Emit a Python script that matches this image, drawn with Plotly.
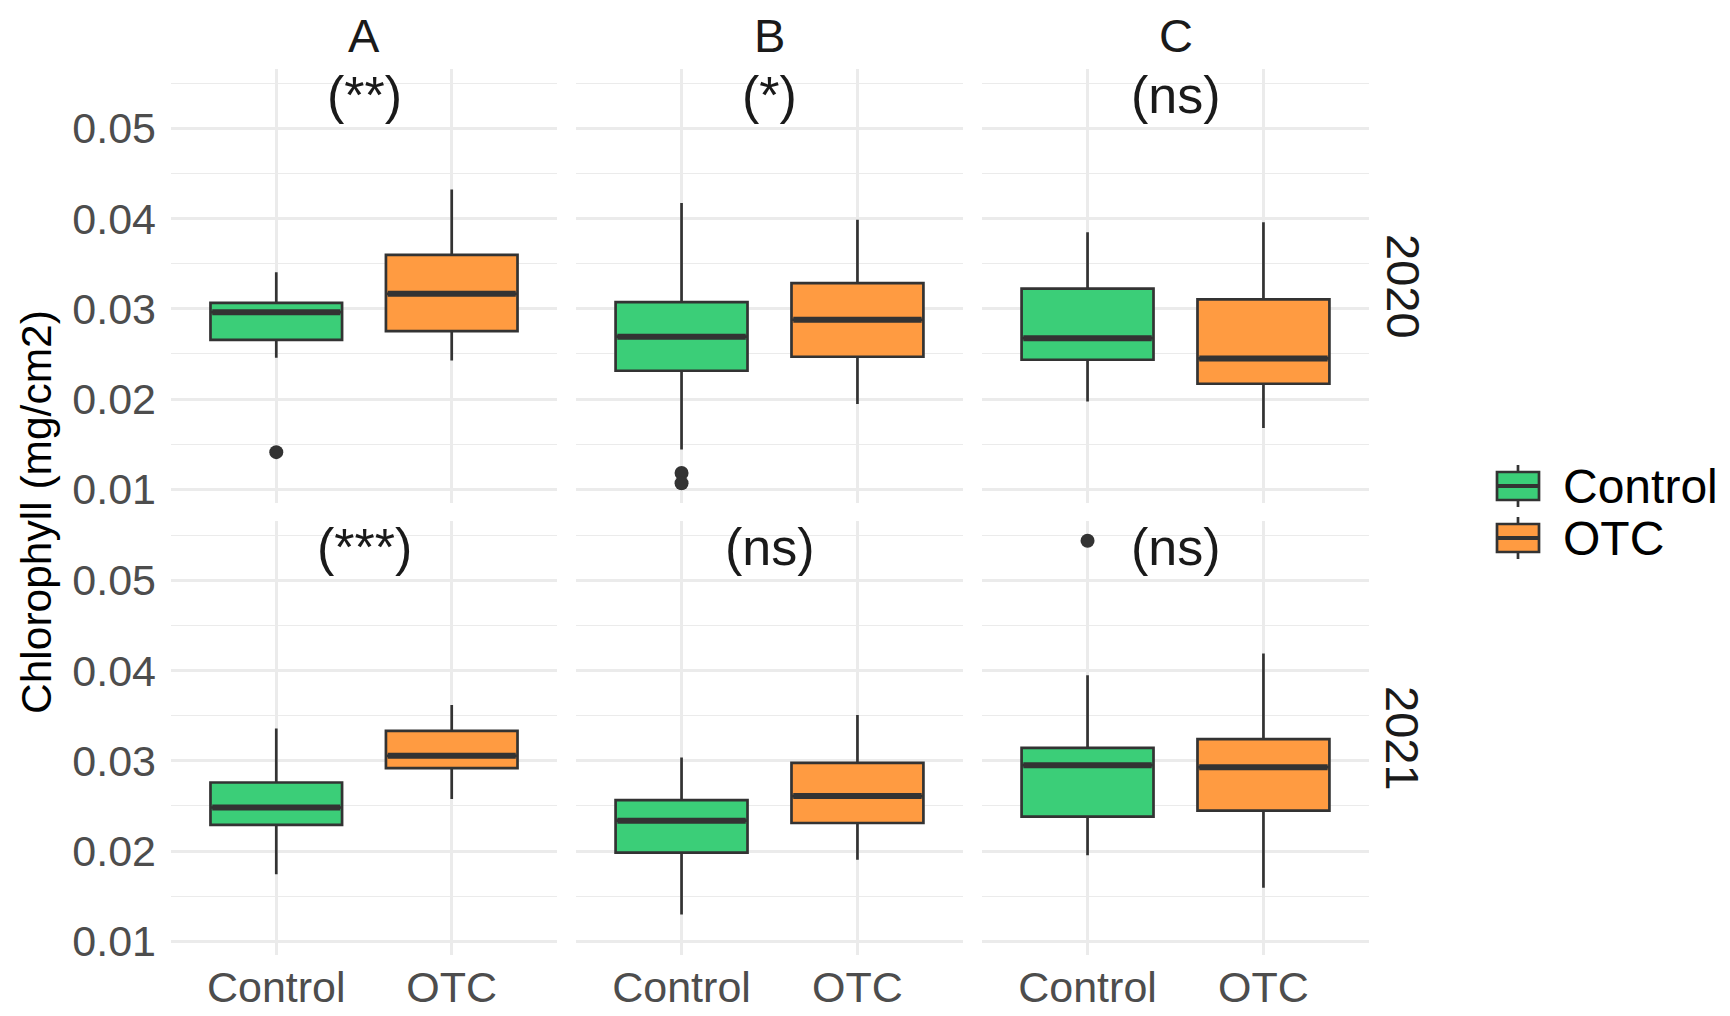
"""Faceted chlorophyll boxplots (site x year), Control vs OTC."""

import plotly.graph_objects as go
from plotly.subplots import make_subplots

sites = ["A", "B", "C"]
years = ["2020", "2021"]
treatments = ["Control", "OTC"]
colors = {"Control": "#3BCE78", "OTC": "#FF9B41"}

# per site A, B, C: lower whisker, q1, median, q3, upper whisker (mg/cm2)
box_2020_control = [
    [0.02457, 0.02657, 0.02963, 0.03066, 0.03405],
    [0.01440, 0.02314, 0.02691, 0.03074, 0.04174],
    [0.01974, 0.02436, 0.02675, 0.03225, 0.03849],
]
box_2020_otc = [
    [0.02428, 0.02752, 0.03166, 0.03598, 0.04321],
    [0.01945, 0.02469, 0.02879, 0.03284, 0.03986],
    [0.01679, 0.02170, 0.02450, 0.03104, 0.03959],
]
box_2021_control = [
    [0.01742, 0.02290, 0.02483, 0.02760, 0.03357],
    [0.01298, 0.01983, 0.02337, 0.02565, 0.03037],
    [0.01954, 0.02381, 0.02952, 0.03144, 0.03947],
]
box_2021_otc = [
    [0.02576, 0.02919, 0.03055, 0.03332, 0.03620],
    [0.01903, 0.02311, 0.02610, 0.02978, 0.03508],
    [0.01593, 0.02448, 0.02930, 0.03240, 0.04190],
]

outliers_2020_control = [[0.01412], [0.01181, 0.01067], []]
outliers_2020_otc = [[], [], []]
outliers_2021_control = [[], [], [0.05439]]
outliers_2021_otc = [[], [], []]

significance_2020 = ["(**)", "(*)", "(ns)"]
significance_2021 = ["(***)", "(ns)", "(ns)"]

boxes = {
    ("2020", "Control"): box_2020_control,
    ("2020", "OTC"): box_2020_otc,
    ("2021", "Control"): box_2021_control,
    ("2021", "OTC"): box_2021_otc,
}
outliers = {
    ("2020", "Control"): outliers_2020_control,
    ("2020", "OTC"): outliers_2020_otc,
    ("2021", "Control"): outliers_2021_control,
    ("2021", "OTC"): outliers_2021_otc,
}
significance = {"2020": significance_2020, "2021": significance_2021}

FONT = "Liberation Sans, Arial, sans-serif"
OUTLINE = "#333333"
GRID = "#EBEBEB"
BOX_WIDTH = 0.75
W, H = 1730, 1016
PAGE_OFFSET = 8  # default body margin of the html page


def px_x(sx):
    """Screen pixel x -> paper fraction."""
    return (sx - PAGE_OFFSET) / W


def px_y(sy):
    """Screen pixel y (from top) -> paper fraction."""
    return 1 - (sy - PAGE_OFFSET) / H


# shared y range with ggplot's 5% expansion
all_values = [v for b in boxes.values() for row in b for v in row]
all_values += [v for o in outliers.values() for row in o for v in row]
y_lo, y_hi = min(all_values), max(all_values)
pad = (y_hi - y_lo) * 0.05
y_range = [y_lo - pad, y_hi + pad]

fig = make_subplots(rows=2, cols=3)

for r, year in enumerate(years, start=1):
    for c, site in enumerate(sites, start=1):
        for t_idx, treatment in enumerate(treatments):
            xpos = t_idx + 1
            lo, q1, med, q3, hi = boxes[(year, treatment)][c - 1]
            fig.add_trace(
                go.Box(
                    x=[xpos],
                    lowerfence=[lo],
                    q1=[q1],
                    median=[med],
                    q3=[q3],
                    upperfence=[hi],
                    width=BOX_WIDTH,
                    whiskerwidth=0,
                    fillcolor=colors[treatment],
                    line=dict(color=OUTLINE, width=2.7),
                    name=treatment,
                    showlegend=False,
                    boxpoints=False,
                    hoverinfo="skip",
                ),
                row=r,
                col=c,
            )
            # thicker median bar like ggplot
            fig.add_trace(
                go.Scatter(
                    x=[xpos - BOX_WIDTH / 2 + 0.01, xpos + BOX_WIDTH / 2 - 0.01],
                    y=[med, med],
                    mode="lines",
                    line=dict(color=OUTLINE, width=6),
                    showlegend=False,
                    hoverinfo="skip",
                ),
                row=r,
                col=c,
            )
            pts = outliers[(year, treatment)][c - 1]
            if pts:
                fig.add_trace(
                    go.Scatter(
                        x=[xpos] * len(pts),
                        y=pts,
                        mode="markers",
                        marker=dict(color=OUTLINE, size=14),
                        showlegend=False,
                        hoverinfo="skip",
                    ),
                    row=r,
                    col=c,
                )
        fig.add_annotation(
            x=1.5,
            y=0.0537,
            text=significance[year][c - 1],
            showarrow=False,
            font=dict(family=FONT, size=52, color="#1A1A1A"),
            row=r,
            col=c,
        )

col_domains = [(px_x(171), px_x(557)), (px_x(576), px_x(963)), (px_x(982), px_x(1369))]
row_domains = [(px_y(503), px_y(69)), (px_y(955), px_y(521))]

for r in range(1, 3):
    for c in range(1, 4):
        fig.update_xaxes(
            domain=col_domains[c - 1],
            range=[0.4, 2.6],
            tickvals=[1, 2],
            ticktext=treatments,
            showticklabels=(r == 2),
            showgrid=True,
            gridcolor=GRID,
            gridwidth=2.5,
            zeroline=False,
            showline=False,
            ticks="",
            automargin=False,
            tickfont=dict(family=FONT, size=43, color="#4D4D4D"),
            ticklabelstandoff=3,
            row=r,
            col=c,
        )
        fig.update_yaxes(
            domain=row_domains[r - 1],
            range=y_range,
            tick0=0.01,
            dtick=0.01,
            tickformat=".2f",
            showticklabels=(c == 1),
            showgrid=True,
            gridcolor=GRID,
            gridwidth=2.5,
            minor=dict(dtick=0.005, tick0=0.005, showgrid=True, gridcolor=GRID, gridwidth=1.4),
            zeroline=False,
            showline=False,
            ticks="",
            automargin=False,
            tickfont=dict(family=FONT, size=43, color="#4D4D4D"),
            ticklabelstandoff=14,
            row=r,
            col=c,
        )

# facet strips
for c, site in enumerate(sites):
    x0, x1 = col_domains[c]
    fig.add_annotation(
        x=(x0 + x1) / 2, y=px_y(36), xref="paper", yref="paper",
        text=site, showarrow=False, xanchor="center", yanchor="middle",
        font=dict(family=FONT, size=47, color="#1A1A1A"),
    )
for r, year in enumerate(years):
    y0, y1 = row_domains[r]
    fig.add_annotation(
        x=px_x(1403), y=(y0 + y1) / 2, xref="paper", yref="paper",
        text=year, showarrow=False, textangle=90,
        xanchor="center", yanchor="middle",
        font=dict(family=FONT, size=47, color="#1A1A1A"),
    )

fig.add_annotation(
    x=px_x(36), y=px_y(512), xref="paper", yref="paper",
    text="Chlorophyll (mg/cm2)", showarrow=False, textangle=-90,
    xanchor="center", yanchor="middle",
    font=dict(family=FONT, size=42.5, color="black"),
)

# legend drawn as ggplot-style boxplot keys
key_cx, key_hw, key_hh, key_tick = 1518, 21, 14, 7
for treatment, key_cy in zip(treatments, [486, 538]):
    fig.add_shape(
        type="line", xref="paper", yref="paper",
        x0=px_x(key_cx), x1=px_x(key_cx),
        y0=px_y(key_cy - key_hh - key_tick), y1=px_y(key_cy + key_hh + key_tick),
        line=dict(color=OUTLINE, width=2.7),
    )
    fig.add_shape(
        type="rect", xref="paper", yref="paper",
        x0=px_x(key_cx - key_hw), x1=px_x(key_cx + key_hw),
        y0=px_y(key_cy - key_hh), y1=px_y(key_cy + key_hh),
        fillcolor=colors[treatment], line=dict(color=OUTLINE, width=2.7),
    )
    fig.add_shape(
        type="line", xref="paper", yref="paper",
        x0=px_x(key_cx - key_hw), x1=px_x(key_cx + key_hw),
        y0=px_y(key_cy), y1=px_y(key_cy),
        line=dict(color=OUTLINE, width=4),
    )
    fig.add_annotation(
        x=px_x(1561), y=px_y(key_cy), xref="paper", yref="paper",
        text=treatment, showarrow=False, xanchor="left", yanchor="middle",
        font=dict(family=FONT, size=48, color="black"),
    )

fig.update_layout(
    width=W,
    height=H,
    margin=dict(l=0, r=0, t=0, b=0),
    plot_bgcolor="white",
    paper_bgcolor="white",
    font=dict(family=FONT),
    showlegend=False,
)

fig.write_html("out.html")
